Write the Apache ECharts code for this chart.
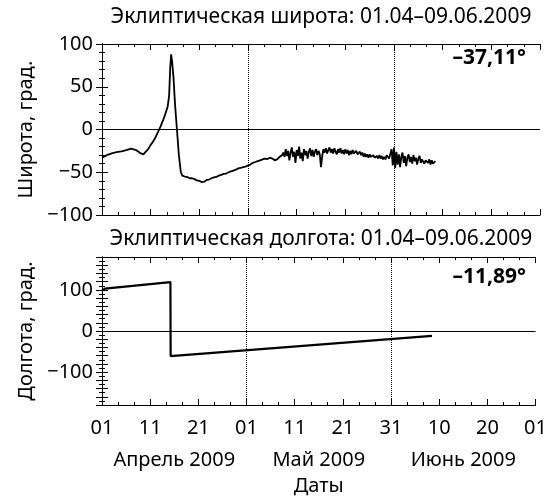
<!DOCTYPE html>
<html><head><meta charset="utf-8">
<script src="https://cdn.jsdelivr.net/npm/echarts@6/dist/echarts.min.js"></script>
<style>html,body{margin:0;padding:0;background:#fff}#c{width:550px;height:497px}</style>
</head><body><div id="c"></div>
<script>
// X: days since 01.04.2009
const tickLabels = ['01','11','21','01','11','21','31','10','20','01'];
const monthLabels = ['Апрель 2009','Май 2009','Июнь 2009'];
const monthCenters = [15, 45, 75];
const dividerDays = [30, 60];
const latTitle = 'Эклиптическая широта: 01.04–09.06.2009';
const lonTitle = 'Эклиптическая долгота: 01.04–09.06.2009';
const latNote = '–37,11°';
const lonNote = '–11,89°';

const latDays = [0,1,2,3,4,5,6,7,8,8.5,9,9.5,10,10.5,11,11.5,12,12.5,13,13.5,13.8,14,14.2,14.4,14.7,15,15.4,15.8,16.2,16.5,17,17.5,18,18.5,19,19.5,20,20.5,21,21.5,22,22.5,23,23.5,24,24.5,25,25.5,26,26.5,27,27.5,28,28.5,29,29.5,30,30.5,31,31.5,32,32.5,33,33.5,34,34.5,35,35.5,36,36.5,37,
37.25,37.5,37.75,38,38.25,38.5,38.75,39,39.25,39.5,39.75,40,40.25,40.5,40.75,41,41.25,41.5,41.75,42,42.25,42.5,42.75,43,43.25,43.5,43.75,44,44.25,44.5,44.75,45,45.25,45.5,45.75,46,46.25,46.5,46.75,47,47.25,47.5,47.75,48,48.25,48.5,48.75,49,49.25,49.5,49.75,50,50.25,50.5,50.75,51,51.25,51.5,51.75,52,52.25,52.5,52.75,53,53.25,53.5,53.75,54,54.25,54.5,54.75,55,55.25,55.5,55.75,56,56.25,56.5,56.75,57,57.25,57.5,57.75,58,58.25,58.5,58.75,59,59.25,59.5,59.75,60,60.25,60.5,60.75,61,61.25,61.5,61.75,62,62.25,62.5,62.75,63,63.25,63.5,63.75,64,64.25,64.5,64.75,65,65.25,65.5,65.75,66,66.25,66.5,66.75,67,67.25,67.5,67.75,68,68.25,68.5];
const latValues = [-33,-30,-28,-26.5,-25.5,-24,-22.5,-24,-28,-29,-26,-23,-18,-14,-9,-3,3,10,18,27,40,70,88,80,60,30,0,-30,-50,-54,-55,-55.5,-57,-57,-58,-59.5,-60,-61.5,-61,-59,-58.5,-57,-56,-55.5,-54,-53,-52,-51.5,-50,-49,-48,-47,-45.5,-45,-44,-43.5,-42,-41,-39,-38,-37,-36,-35,-34,-34.5,-33,-34,-36,-35,-32,-30,
-27,-32,-23,-31,-25,-36,-27,-21,-32,-26,-39,-24,-31,-20,-34,-27,-37,-23,-30,-25,-34,-26,-22,-31,-24,-32,-26,-23,-30,-25,-29,-44,-31,-23,-27,-22,-28,-24,-21,-27,-23,-28,-22,-26,-29,-23,-27,-22,-28,-24,-29,-23,-28,-24,-30,-25,-29,-24,-28,-30,-25,-29,-31,-26,-30,-27,-32,-28,-32,-29,-33,-29,-32,-34,-30,-33,-35,-31,-34,-30,-34,-31,-35,-32,-35,-30,-28,-34,-36,-23,-42,-21,-45,-26,-41,-29,-44,-32,-27,-39,-31,-43,-33,-29,-38,-32,-40,-30,-37,-33,-41,-34,-31,-39,-35,-33,-40,-36,-34,-39,-35,-41,-36,-40,-38,-37.11];

const lonDays = [0, 0.6, 14.2, 14.25, 68.5];
const lonValues = [98, 103, 119, -61, -11.89];

const FONT = 'Noto Sans';
const FS = 20;
const zip = (a, b) => a.map((d, i) => [d, b[i]]);

const chart = echarts.init(document.getElementById('c'), null, {renderer: 'canvas'});
const axLine = {lineStyle: {color: '#000', width: 1}};
const baseY = (gi, pos, min, max, interval, split, showLabels, name) => ({
  type: 'value', gridIndex: gi, position: pos, min, max, interval,
  axisLine: {show: true, ...axLine},
  axisTick: {show: true, inside: true, length: 6, lineStyle: {color: '#000'}},
  minorTick: {show: true, splitNumber: split, length: 3, lineStyle: {color: '#000'}},
  splitLine: {show: false},
  axisLabel: {show: showLabels, color: '#000', fontFamily: FONT, fontSize: FS, margin: 9,
    formatter: v => (v % 100 === 0 || (interval === 50)) ? String(v).replace('-', '−') : ''},
  name: name || '', nameLocation: 'middle', nameGap: 65, nameRotate: 90,
  nameTextStyle: {color: '#000', fontFamily: FONT, fontSize: FS}
});
const baseX = (gi, pos, showLabels) => ({
  type: 'value', gridIndex: gi, position: pos, min: 0, max: 90, interval: 10,
  axisLine: {show: true, onZero: false, ...axLine},
  axisTick: {show: true, inside: true, length: 6, lineStyle: {color: '#000'}},
  minorTick: {show: true, splitNumber: 3, length: 3, lineStyle: {color: '#000'}},
  splitLine: {show: false},
  axisLabel: {show: showLabels, color: '#000', fontFamily: FONT, fontSize: FS, margin: 13,
    formatter: v => tickLabels[Math.round(v / 10)] || ''}
});

const markLines = {
  silent: true, symbol: 'none', label: {show: false}, animation: false,
  data: [
    {yAxis: 0, lineStyle: {type: 'solid', color: '#000', width: 1}},
    ...dividerDays.map(d => ({xAxis: d, lineStyle: {type: 'dotted', color: '#000', width: 1}}))
  ]
};

chart.setOption({
  animation: false,
  backgroundColor: '#fff',
  grid: [
    {left: 102, right: 10, top: 44, height: 171},
    {left: 102, right: 10, top: 257, height: 163}
  ],
  xAxis: [
    baseX(0, 'bottom', false),
    baseX(0, 'top', false),
    baseX(1, 'bottom', true),
    baseX(1, 'top', false),
    {type: 'value', gridIndex: 1, position: 'bottom', offset: 37, min: 0, max: 90,
      axisLine: {show: false}, axisTick: {show: false}, splitLine: {show: false},
      axisLabel: {show: true, customValues: monthCenters, color: '#000', fontFamily: FONT, fontSize: FS,
        formatter: v => monthLabels[monthCenters.indexOf(v)] || ''},
      name: 'Даты', nameLocation: 'middle', nameGap: 34,
      nameTextStyle: {color: '#000', fontFamily: FONT, fontSize: FS}}
  ],
  yAxis: [
    baseY(0, 'left', -100, 100, 50, 5, true, 'Широта, град.'),
    baseY(0, 'right', -100, 100, 50, 5, false),
    baseY(1, 'left', -180, 180, 20, 2, true, 'Долгота, град.'),
    baseY(1, 'right', -180, 180, 20, 2, false)
  ],
  series: [
    {type: 'line', xAxisIndex: 0, yAxisIndex: 0, data: zip(latDays, latValues), showSymbol: false,
      lineStyle: {color: '#000', width: 1.8}, markLine: markLines},
    {type: 'line', xAxisIndex: 2, yAxisIndex: 2, data: zip(lonDays, lonValues), showSymbol: false,
      lineStyle: {color: '#000', width: 2.2}, markLine: markLines}
  ],
  graphic: [
    {type: 'text', x: 321, y: 17, style: {text: latTitle, font: '21px "' + FONT + '"', fill: '#000', align: 'center', verticalAlign: 'middle'}},
    {type: 'text', x: 321, y: 239, style: {text: lonTitle, font: '21px "' + FONT + '"', fill: '#000', align: 'center', verticalAlign: 'middle'}},
    {type: 'text', x: 526, y: 58, style: {text: latNote, font: 'bold 21px "' + FONT + '"', fill: '#000', align: 'right', verticalAlign: 'middle'}},
    {type: 'text', x: 526, y: 277, style: {text: lonNote, font: 'bold 21px "' + FONT + '"', fill: '#000', align: 'right', verticalAlign: 'middle'}}
  ]
});
</script></body></html>
